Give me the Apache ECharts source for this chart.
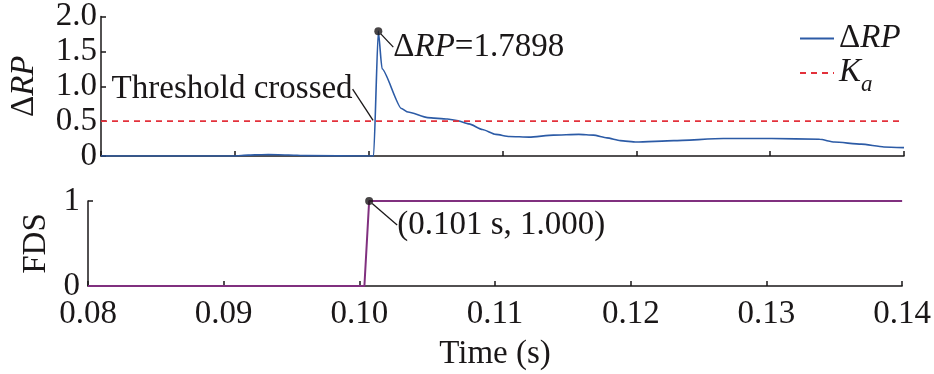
<!DOCTYPE html>
<html>
<head>
<meta charset="utf-8">
<script src="https://cdn.jsdelivr.net/npm/echarts@6/dist/echarts.min.js"></script>
<style>html,body{margin:0;padding:0;background:#fff}#c{width:934px;height:374px}</style>
</head>
<body>
<div id="c"></div>
<script>
// ---- data ----
var timeDRP = [0.080, 0.0900, 0.0905, 0.0915, 0.0925, 0.0940, 0.0953, 0.1000, 0.10037, 0.10072, 0.1010, 0.10245, 0.10294, 0.10441, 0.10588, 0.1066, 0.1075, 0.1085, 0.1095, 0.1105, 0.1120, 0.1138, 0.1157, 0.1168, 0.1178, 0.1188, 0.1200, 0.1228, 0.1265, 0.1301, 0.1337, 0.1348, 0.1368, 0.1385, 0.1400];
var valDRP  = [0, 0, 0.008, 0.016, 0.02, 0.015, 0.005, 0, 0, 1.7898, 1.25, 0.68, 0.63, 0.55, 0.53, 0.51, 0.46, 0.38, 0.31, 0.28, 0.27, 0.30, 0.31, 0.30, 0.26, 0.22, 0.20, 0.22, 0.25, 0.25, 0.24, 0.20, 0.17, 0.13, 0.12];
var timeFDS = [0.080, 0.10037, 0.10072, 0.140];
var valFDS  = [0, 0, 1, 1];
var timeKa = [0.080, 0.140];
var valKa = [0.5, 0.5];
var peakPoint = [0.10072, 1.7898];
var crossPoint = [0.10037, 0.5];
var fdsPoint = [0.10072, 1.000];
var xTicks = ['0.08','0.09','0.10','0.11','0.12','0.13','0.14'];
var yTicksTop = ['0','0.5','1.0','1.5','2.0'];
var yTicksBottom = ['0','1'];

function zip(a,b){return a.map(function(v,i){return [v,b[i]];});}

var FONT = "'Liberation Serif','Times New Roman',serif";
var FS = 33;
var INK = '#1a1718';
var BLUE = '#2c5ba6';
var RED = '#e3313b';
var PURPLE = '#80307f';

var rich = {
  n: {fontFamily: FONT, fontSize: FS, color: INK},
  i: {fontFamily: FONT, fontSize: FS, color: INK, fontStyle: 'italic'}
};

function axisCommon(){
  return {
    axisLine: {show: true, lineStyle: {color: INK, width: 1.5}},
    axisTick: {show: true, inside: true, length: 5, lineStyle: {color: INK, width: 1.5}},
    splitLine: {show: false},
    axisLabel: {fontFamily: FONT, fontSize: FS, color: INK}
  };
}

var x0 = Object.assign(axisCommon(), {type:'value', gridIndex:0, min:0.08, max:0.14, interval:0.01});
x0.axisLabel = {show:false};
var x1 = Object.assign(axisCommon(), {type:'value', gridIndex:1, min:0.08, max:0.14, interval:0.01,
  name:'Time (s)', nameLocation:'middle', nameGap:52,
  nameTextStyle:{fontFamily: FONT, fontSize: FS, color: INK}});
x1.axisLabel = {fontFamily: FONT, fontSize: FS, color: INK, margin: 12,
  formatter: function(v){ var i = Math.round((v-0.08)/0.01); return xTicks[i]; }};

var y0 = Object.assign(axisCommon(), {type:'value', gridIndex:0, min:0, max:2, interval:0.5,
  name:'{n|Δ}{i|RP}', nameLocation:'middle', nameRotate:90, nameGap:60,
  nameTextStyle:{rich: rich}});
y0.axisLabel = {fontFamily: FONT, fontSize: FS, color: INK, margin: 4,
  formatter: function(v){ return yTicksTop[Math.round(v/0.5)]; }};
var y1 = Object.assign(axisCommon(), {type:'value', gridIndex:1, min:0, max:1, interval:1,
  name:'FDS', nameLocation:'middle', nameRotate:90, nameGap:34,
  nameTextStyle:{fontFamily: FONT, fontSize: FS, color: INK}});
y1.axisLabel = {fontFamily: FONT, fontSize: FS, color: INK, margin: 8,
  formatter: function(v){ return yTicksBottom[Math.round(v)]; }};

var labelBase = {show: true, color: INK, opacity: 1, textBorderWidth: 0, fontFamily: FONT, fontSize: FS};

var option = {
  animation: false,
  backgroundColor: '#fff',
  grid: [
    {left: 88, right: 30, top: 16, height: 140},
    {left: 88, right: 30, top: 201, height: 85}
  ],
  xAxis: [x0, x1],
  yAxis: [y0, y1],
  legend: {
    data: ['ΔRP', 'Ka'],
    orient: 'vertical',
    left: 794, top: 17,
    itemWidth: 34, itemHeight: 14, itemGap: 1,
    itemStyle: {opacity: 0},
    formatter: function(name){ return name === 'ΔRP' ? '{n|Δ}{i|RP}' : '{k|K}{s|a}'; },
    textStyle: {
      rich: {
        n: {fontFamily: FONT, fontSize: FS, color: INK, lineHeight: 34},
        i: {fontFamily: FONT, fontSize: FS, color: INK, fontStyle: 'italic', lineHeight: 34},
        k: {fontFamily: FONT, fontSize: FS, color: INK, fontStyle: 'italic', lineHeight: 34, verticalAlign: 'top'},
        s: {fontFamily: FONT, fontSize: 23, color: INK, fontStyle: 'italic', lineHeight: 22, padding: [17,0,0,0], verticalAlign: 'top'}
      }
    }
  },
  series: [
    {name: 'ΔRP', type: 'line', xAxisIndex: 0, yAxisIndex: 0, data: zip(timeDRP, valDRP),
      symbol: 'none', smooth: 0.2, smoothMonotone: 'x', lineStyle: {color: BLUE, width: 1.6}, itemStyle: {color: BLUE}},
    {name: 'Ka', type: 'line', xAxisIndex: 0, yAxisIndex: 0, data: zip(timeKa, valKa),
      symbol: 'none', lineStyle: {color: RED, width: 1.6, type: [6,5]}, itemStyle: {color: RED}},
    {name: 'FDS', type: 'line', xAxisIndex: 1, yAxisIndex: 1, data: zip(timeFDS, valFDS),
      symbol: 'none', lineStyle: {color: PURPLE, width: 2}, itemStyle: {color: PURPLE}},
    {name: 'peak', type: 'scatter', xAxisIndex: 0, yAxisIndex: 0, data: [peakPoint],
      symbolSize: 8, itemStyle: {color: INK}, z: 5,
      label: Object.assign({}, labelBase, {position: 'right', distance: 4, formatter: '{n|Δ}{i|RP}{n|=1.7898}', rich: rich}),
      labelLayout: {dx: 7, dy: 16},
      labelLine: {show: true, lineStyle: {color: INK, width: 1.3}}},
    {name: 'cross', type: 'scatter', xAxisIndex: 0, yAxisIndex: 0, data: [crossPoint],
      symbolSize: 2, itemStyle: {color: 'rgba(0,0,0,0)'}, z: 5,
      label: Object.assign({}, labelBase, {position: 'left', distance: 2, formatter: 'Threshold crossed'}),
      labelLayout: {dx: -18, dy: -32},
      labelLine: {show: true, lineStyle: {color: INK, width: 1.3}}},
    {name: 'fdsPt', type: 'scatter', xAxisIndex: 1, yAxisIndex: 1, data: [fdsPoint],
      symbolSize: 8, itemStyle: {color: INK}, z: 5,
      label: Object.assign({}, labelBase, {position: 'right', distance: 4, formatter: '(0.101 s, 1.000)'}),
      labelLayout: {dx: 20, dy: 24},
      labelLine: {show: true, lineStyle: {color: INK, width: 1.3}}}
  ]
};
var chart = echarts.init(document.getElementById('c'), null, {renderer: 'canvas'});
chart.setOption(option);
</script>
</body>
</html>
